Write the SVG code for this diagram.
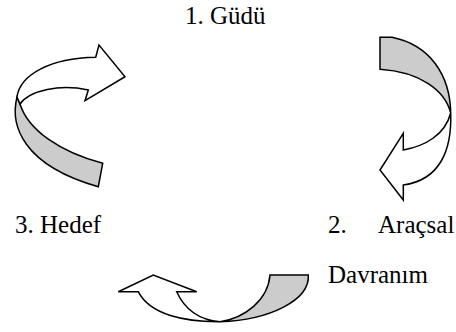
<svg xmlns="http://www.w3.org/2000/svg" width="456" height="332" viewBox="0 0 456 332">
<style>
.t{font-family:"Liberation Serif","Times New Roman",serif;font-size:25px;fill:#000}
.w{fill:#fff;stroke:#000;stroke-width:1.5;stroke-linejoin:miter}
.g{fill:#cccccc;stroke:#000;stroke-width:1.5;stroke-linejoin:miter}
</style>
<rect width="456" height="332" fill="#fff"/>
<g id="connectors">
<g id="arrow-left">
<path class="g" d="M17,97 C10,125 22,165 98.3,186.7 L102.7,163.3 C60,152 28,130 20,104 Z"/>
<path class="w" d="M95.7,57.3 L99,45 L125,76.7 L85,100.7 L88.3,90 C60,84 30,90 20,104 L17,97 C20,75 50,58 95.7,57.3 Z"/>
</g>
<g id="arrow-right">
<path class="g" d="M380,37.3 L392,37.3 C430,45 450,75 450.7,113 C445,90 420,72 380,69.3 Z"/>
<path class="w" d="M450.7,113 C452,150 440,180 403.3,185 L403.3,200 L380,170 L403.3,133.3 L403.3,150 C425,146 445,135 450.7,113 Z"/>
</g>
<g id="arrow-bottom">
<path class="g" d="M270,275 L308.3,275 C310,300 270,320 220,321.7 C245,318 268,300 270,275 Z"/>
<path class="w" d="M220,321.7 C185,322 150,315 138.3,291.7 L118.3,291.7 L153.3,275 L196.7,291.7 L176.7,291.7 C185,310 200,320 220,321.7 Z"/>
</g>
</g>
<g id="node-gudu"><text class="t" x="185" y="24">1. Güdü</text></g>
<g id="node-hedef"><text class="t" x="15" y="233">3. Hedef</text></g>
<g id="node-aracsal"><text class="t" x="328" y="233">2.</text><text class="t" x="378" y="233">Araçsal</text><text class="t" x="328" y="283">Davranım</text></g>
</svg>
